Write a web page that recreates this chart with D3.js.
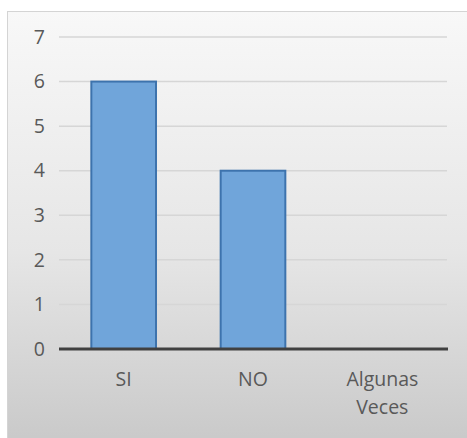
<!DOCTYPE html>
<html>
<head>
<meta charset="utf-8">
<script src="https://cdn.jsdelivr.net/npm/d3@7"></script>
<style>
  html, body { margin: 0; padding: 0; background: #ffffff; }
  svg { display: block; }
</style>
</head>
<body>
<svg id="chart" width="467" height="438"></svg>
<script>
// Survey answers and their counts
const categories = ["SI", "NO", "Algunas Veces"];
const values = [6, 4, 0];
const yTicks = [0, 1, 2, 3, 4, 5, 6, 7];

const svg = d3.select("#chart");
const W = 467, H = 438;
const margin = { top: 37, right: 20, bottom: 89, left: 59 };
const plotRight = 447;
const plotBottom = 349;
const labelFont = "'Open Sans', 'Liberation Sans', sans-serif";
const labelSize = "19.5px";

// Panel background: light at the top fading to grey at the bottom
const defs = svg.append("defs");
const bg = defs.append("linearGradient")
  .attr("id", "panelBg").attr("x1", 0).attr("y1", 0).attr("x2", 0).attr("y2", 1);
bg.append("stop").attr("offset", "0%").attr("stop-color", "#f8f8f8");
bg.append("stop").attr("offset", "55%").attr("stop-color", "#e6e6e6");
bg.append("stop").attr("offset", "100%").attr("stop-color", "#c8c8c8");

svg.append("rect")
  .attr("x", 7.5).attr("y", 11.5)
  .attr("width", W).attr("height", H)
  .attr("fill", "url(#panelBg)")
  .attr("stroke", "#d4d4d4").attr("stroke-width", 1);

const x = d3.scaleBand()
  .domain(categories)
  .range([margin.left, plotRight])
  .paddingInner(0.5)
  .paddingOuter(0.25);

const y = d3.scaleLinear()
  .domain([0, 7])
  .range([plotBottom, margin.top]);

// Horizontal gridlines
svg.append("g")
  .selectAll("line")
  .data(yTicks.filter(d => d > 0))
  .join("line")
  .attr("x1", margin.left).attr("x2", plotRight)
  .attr("y1", d => y(d)).attr("y2", d => y(d))
  .attr("stroke", "#d6d6d6").attr("stroke-width", 1.5);

// Y axis labels
const yAxis = svg.append("g")
  .attr("transform", `translate(${margin.left},0)`)
  .call(d3.axisLeft(y).tickValues(yTicks).tickSize(0).tickPadding(14).tickFormat(d3.format("d")));
yAxis.select(".domain").remove();
yAxis.selectAll("text")
  .attr("fill", "#595959")
  .style("font-family", labelFont)
  .style("font-size", labelSize);

// Bars
svg.append("g")
  .selectAll("rect")
  .data(categories.map((c, i) => ({ c, v: values[i] })).filter(d => d.v > 0))
  .join("rect")
  .attr("x", d => x(d.c))
  .attr("y", d => y(d.v))
  .attr("width", x.bandwidth())
  .attr("height", d => y(0) - y(d.v))
  .attr("fill", "#70a5da")
  .attr("stroke", "#3d73ad")
  .attr("stroke-width", 2);

// Baseline
svg.append("line")
  .attr("x1", margin.left).attr("x2", plotRight + 1)
  .attr("y1", y(0)).attr("y2", y(0))
  .attr("stroke", "#404040").attr("stroke-width", 3);

// Category labels (wrapped onto two lines when needed)
const labelWrap = { "Algunas Veces": ["Algunas", "Veces"] };
svg.append("g")
  .selectAll("text")
  .data(categories)
  .join("text")
  .attr("x", d => x(d) + x.bandwidth() / 2)
  .attr("y", plotBottom + 37)
  .attr("text-anchor", "middle")
  .attr("fill", "#595959")
  .style("font-family", labelFont)
  .style("font-size", labelSize)
  .each(function(d) {
    const lines = labelWrap[d] || [d];
    d3.select(this).selectAll("tspan")
      .data(lines)
      .join("tspan")
      .attr("x", x(d) + x.bandwidth() / 2)
      .attr("dy", (l, i) => i === 0 ? 0 : 28)
      .text(l => l);
  });
</script>
</body>
</html>
